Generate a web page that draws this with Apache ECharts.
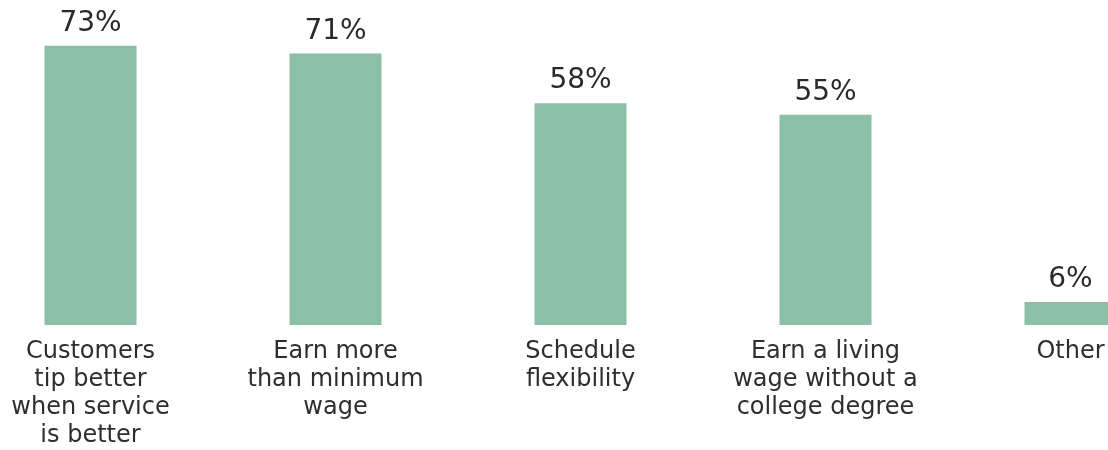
<!DOCTYPE html>
<html>
<head>
<meta charset="utf-8">
<script src="https://cdn.jsdelivr.net/npm/echarts@6/dist/echarts.min.js"></script>
<style>
  html, body { margin: 0; padding: 0; background: #ffffff; }
  #chart { width: 1108px; height: 450px; }
</style>
</head>
<body>
<div id="chart"></div>
<script>
// Reasons for working in tipped jobs (share of respondents)
const categories = [
  'Customers\ntip better\nwhen service\nis better',
  'Earn more\nthan minimum\nwage',
  'Schedule\nflexibility',
  'Earn a living\nwage without a\ncollege degree',
  'Other'
];
const shares = [73, 71, 58, 55, 6];

const chart = echarts.init(document.getElementById('chart'), null, { renderer: 'canvas' });

chart.setOption({
  backgroundColor: '#ffffff',
  animation: false,
  grid: {
    left: -32,
    width: 1225,
    top: 19,
    bottom: 125,
    containLabel: false,
    outerBoundsMode: 'none'
  },
  xAxis: {
    type: 'category',
    data: categories,
    axisLine: { show: false },
    axisTick: { show: false },
    axisLabel: {
      interval: 0,
      margin: 13,
      color: '#2e2e2e',
      fontFamily: 'DejaVu Sans',
      fontSize: 24,
      lineHeight: 28,
      align: 'center'
    }
  },
  yAxis: {
    type: 'value',
    min: 0,
    max: 80,
    show: false,
    splitLine: { show: false }
  },
  series: [{
    type: 'bar',
    data: shares,
    barWidth: 92,
    itemStyle: { color: '#8bbfa6' },
    label: {
      show: true,
      position: 'top',
      distance: 8,
      formatter: '{c}%',
      color: '#2a2a2a',
      fontFamily: 'DejaVu Sans',
      fontSize: 28
    }
  }]
});
</script>
</body>
</html>
